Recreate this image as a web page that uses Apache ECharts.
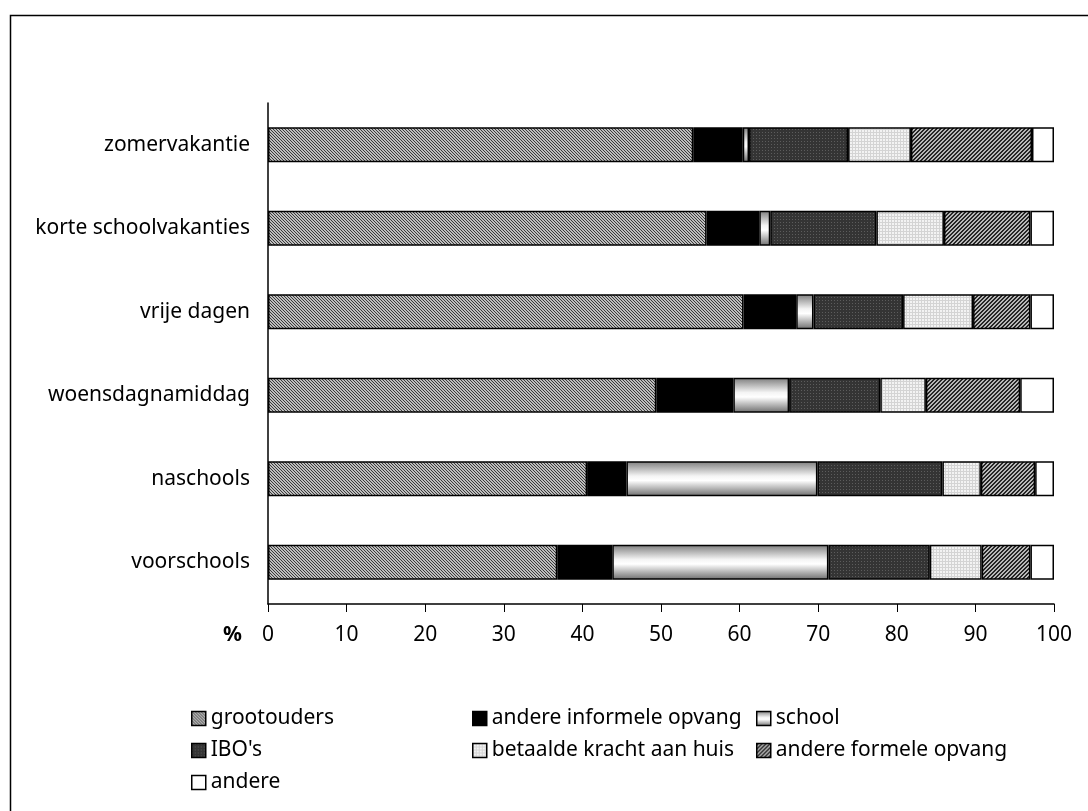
<!DOCTYPE html>
<html>
<head>
<meta charset="utf-8">
<script src="https://cdn.jsdelivr.net/npm/echarts@6/dist/echarts.min.js"></script>
<style>
html,body{margin:0;padding:0;background:#fff;}
#chart{width:1088px;height:811px;}
</style>
</head>
<body>
<div id="chart"></div>
<script>
var categories = ['zomervakantie','korte schoolvakanties','vrije dagen','woensdagnamiddag','naschools','voorschools'];
var seriesNames = ['grootouders','andere informele opvang','school','IBO\'s','betaalde kracht aan huis','andere formele opvang','andere'];
var grootouders     = [54.1, 55.8, 60.5, 49.4, 40.6, 36.8];
var andereInformele = [6.3, 6.7, 6.7, 9.8, 5.0, 7.0];
var school          = [0.8, 1.4, 2.2, 7.1, 24.3, 27.5];
var ibo             = [12.6, 13.5, 11.4, 11.6, 15.9, 12.9];
var betaalde        = [8.0, 8.6, 8.9, 5.8, 4.9, 6.6];
var andereFormele   = [15.4, 11.0, 7.3, 12.0, 6.9, 6.2];
var andere          = [2.8, 3.0, 3.0, 4.3, 2.4, 3.0];
var xTicks = [0,10,20,30,40,50,60,70,80,90,100];

function makePattern(size, base, fg, test) {
  var c = document.createElement('canvas');
  c.width = size; c.height = size;
  var ctx = c.getContext('2d');
  ctx.fillStyle = base; ctx.fillRect(0,0,size,size);
  ctx.fillStyle = fg;
  for (var y=0;y<size;y++) for (var x=0;x<size;x++) if (test(x,y)) ctx.fillRect(x,y,1,1);
  return {image: c, repeat: 'repeat'};
}
var pGroot = makePattern(6, '#bdbdbd', '#3a3a3a', function(x,y){return ((x - y + 6) % 3) === 0;});
var pFormele = makePattern(8, '#b8b8b8', '#262626', function(x,y){var k=(x+y)%4; return k===0||k===1;});
var pIbo = makePattern(6, '#343434', '#5c5c5c', function(x,y){return x%3===0 && y%3===0;});
var pBetaalde = makePattern(6, '#f3f3f3', '#d4d4d4', function(x,y){return x%3===0 || y%3===0;});
var gSchool = new echarts.graphic.LinearGradient(0,0,0,1,[
  {offset:0,color:'#7c7c7c'},{offset:0.42,color:'#f4f4f4'},{offset:0.55,color:'#ffffff'},{offset:1,color:'#6c6c6c'}
]);
var fills = [pGroot, '#000000', gSchool, pIbo, pBetaalde, pFormele, '#ffffff'];
var values = [grootouders, andereInformele, school, ibo, betaalde, andereFormele, andere];

var FONT = 'Noto Sans';
var FS = 21;
var series = seriesNames.map(function(n,i){
  return {
    name: n, type: 'bar', stack: 'total', barWidth: 35,
    data: values[i],
    itemStyle: {color: fills[i], borderColor: '#000', borderWidth: 1.5},
    emphasis: {disabled: true},
    animation: false
  };
});

function legendCol(names, left) {
  return {
    orient: 'vertical', left: left, top: 703,
    itemWidth: 14, itemHeight: 14, itemGap: 11, icon: 'rect',
    data: names,
    selectedMode: false,
    itemStyle: {borderColor: '#000', borderWidth: 1.5},
    textStyle: {fontFamily: FONT, fontSize: FS, color: '#000', lineHeight: 21}
  };
}

var chart = echarts.init(document.getElementById('chart'), null, {renderer: 'canvas'});
chart.setOption({
  backgroundColor: '#fff',
  animation: false,
  textStyle: {fontFamily: FONT},
  grid: {left: 268, right: 34, top: 103, bottom: 207, containLabel: false},
  xAxis: {
    type: 'value', min: 0, max: 100, interval: 10,
    name: '%', nameLocation: 'start', nameGap: 26,
    nameTextStyle: {fontFamily: FONT, fontSize: FS, fontWeight: 'bold', color: '#000', verticalAlign: 'top', padding: [21,0,0,0]},
    axisLine: {show: true, lineStyle: {color: '#000', width: 1.5}},
    axisTick: {show: true, length: 8, lineStyle: {color: '#000', width: 1}},
    axisLabel: {margin: 21, fontFamily: FONT, fontSize: FS, color: '#000',
      formatter: function(v){ return xTicks.indexOf(v) >= 0 ? String(v) : ''; }},
    splitLine: {show: false}
  },
  yAxis: {
    type: 'category', data: categories, inverse: true,
    axisLine: {show: true, lineStyle: {color: '#000', width: 1.5}},
    axisTick: {show: false},
    axisLabel: {margin: 18, fontFamily: FONT, fontSize: FS, color: '#000'}
  },
  legend: [
    legendCol(['grootouders','IBO\'s','andere'], 186),
    legendCol(['andere informele opvang','betaalde kracht aan huis'], 467),
    legendCol(['school','andere formele opvang'], 751)
  ],
  graphic: [{
    type: 'rect', left: 8, top: 13, silent: true,
    shape: {x: 0, y: 0, width: 1200, height: 900},
    style: {fill: 'none', stroke: '#000', lineWidth: 1.5}
  }],
  series: series
});
</script>
</body>
</html>
